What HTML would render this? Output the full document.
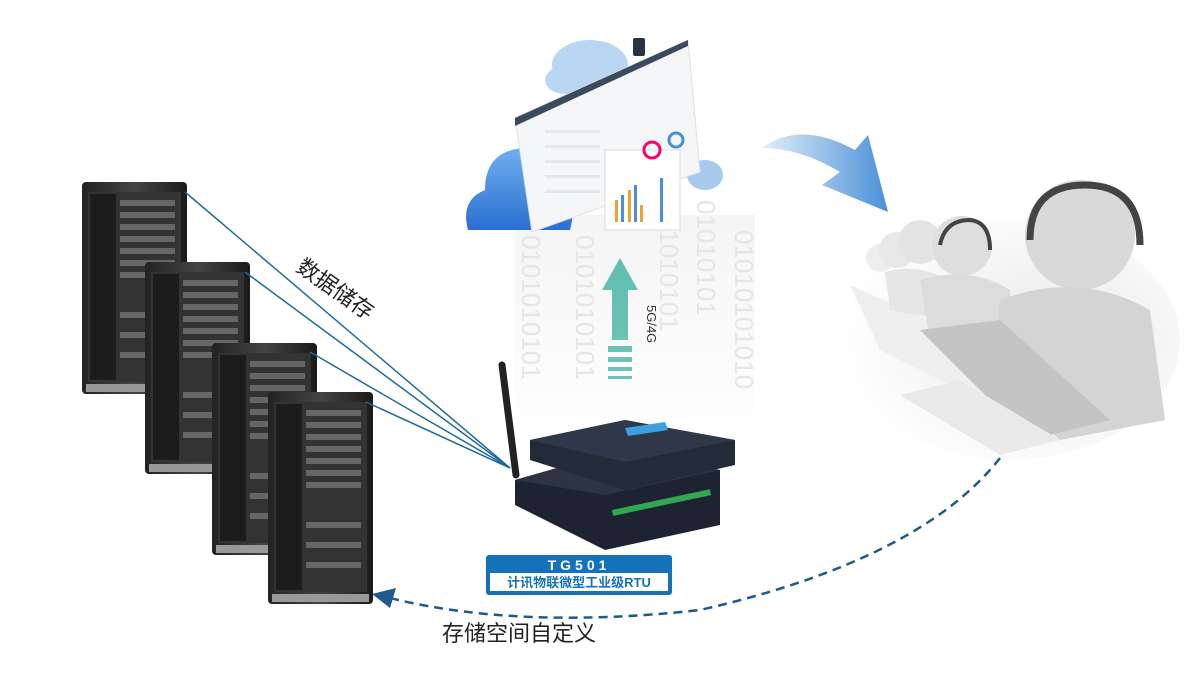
<!DOCTYPE html>
<html><head><meta charset="utf-8"><style>
body{margin:0;background:#fff;width:1200px;height:672px;overflow:hidden}
svg text{font-family:"Liberation Sans","Noto Sans CJK SC",sans-serif}
</style></head><body>
<svg width="1200" height="672" viewBox="0 0 1200 672" xmlns="http://www.w3.org/2000/svg">
<defs>
<linearGradient id="rk" x1="0" x2="1"><stop offset="0" stop-color="#222"/><stop offset=".5" stop-color="#444"/><stop offset="1" stop-color="#1a1a1a"/></linearGradient>
<linearGradient id="ar" x1="0" y1="1" x2="0" y2="0"><stop offset="0" stop-color="#6cc3b6"/><stop offset="1" stop-color="#5fbfb0"/></linearGradient>
<linearGradient id="cl" x1="0" y1="0" x2="0" y2="1"><stop offset="0" stop-color="#6fb0ee"/><stop offset="1" stop-color="#2a6fd0"/></linearGradient>
<linearGradient id="ba" x1="0" x2="1"><stop offset="0" stop-color="#e3eef9"/><stop offset="1" stop-color="#4a90d8"/></linearGradient>
<linearGradient id="bin" x1="0" y1="0" x2="0" y2="1"><stop offset="0" stop-color="#f2f2f2"/><stop offset="1" stop-color="#fff"/></linearGradient>
<radialGradient id="pg" cx=".6" cy=".5" r=".6"><stop offset="0" stop-color="#e8e8e8"/><stop offset="1" stop-color="#fff"/></radialGradient>
<g id="rack">
<rect x="0" y="0" width="105" height="212" fill="url(#rk)" rx="4"/>
<rect x="6" y="10" width="93" height="190" fill="#333"/>
<g fill="#666"><rect x="38" y="18" width="55" height="6"/><rect x="38" y="30" width="55" height="6"/><rect x="38" y="42" width="55" height="6"/><rect x="38" y="54" width="55" height="6"/><rect x="38" y="66" width="55" height="6"/><rect x="38" y="78" width="55" height="6"/><rect x="38" y="90" width="55" height="6"/><rect x="38" y="130" width="55" height="6"/><rect x="38" y="150" width="55" height="6"/><rect x="38" y="170" width="55" height="6"/></g>
<rect x="8" y="12" width="26" height="186" fill="#1c1c1c"/>
<rect x="4" y="202" width="97" height="8" fill="#999"/>
</g>
</defs>
<!-- binary bg -->
<rect x="515" y="215" width="240" height="230" fill="url(#bin)" opacity=".8"/>
<g fill="#e6e6e6" font-size="26">
<text transform="translate(522,235) rotate(90)">0101010101</text>
<text transform="translate(576,235) rotate(90)">0101010101</text>
<text transform="translate(660,215) rotate(90)">01010101</text>
<text transform="translate(735,230) rotate(90)">01010101010</text>
<text transform="translate(697,200) rotate(90)">01010101</text>
</g>
<!-- clouds and dashboard -->
<ellipse cx="590" cy="65" rx="38" ry="25" fill="#b9d6f2"/>
<ellipse cx="565" cy="80" rx="20" ry="14" fill="#b9d6f2"/>
<path d="M468 230 Q460 200 485 190 Q485 150 525 148 Q555 150 560 180 Q580 190 570 230 Z" fill="url(#cl)"/>
<ellipse cx="705" cy="175" rx="18" ry="15" fill="#a9caef"/>
<polygon points="515,118 688,40 700,172 532,232" fill="#f5f6f8" stroke="#e0e0e0"/>
<polygon points="515,118 688,40 688,46 515,126" fill="#3b4a5e"/>
<g fill="#e4e8ee"><rect x="545" y="130" width="55" height="3"/><rect x="545" y="145" width="55" height="3"/><rect x="545" y="160" width="55" height="3"/><rect x="545" y="175" width="55" height="3"/><rect x="545" y="190" width="55" height="3"/></g>
<rect x="605" y="150" width="75" height="80" fill="#fff" stroke="#ddd"/>
<g fill="#f0a030"><rect x="615" y="200" width="3" height="22"/><rect x="628" y="190" width="3" height="32"/><rect x="640" y="205" width="3" height="17"/></g>
<g fill="#4a90d8"><rect x="621" y="195" width="3" height="27"/><rect x="634" y="185" width="3" height="37"/><rect x="660" y="178" width="3" height="44"/></g>
<circle cx="652" cy="150" r="8" fill="none" stroke="#f06" stroke-width="3"/>
<circle cx="676" cy="140" r="7" fill="none" stroke="#4a90d8" stroke-width="3"/>
<rect x="633" y="38" width="12" height="18" fill="#2a3340" rx="2"/>
<!-- 5G arrow -->
<polygon points="620,258 638,290 628,290 628,340 612,340 612,290 602,290" fill="url(#ar)"/>
<g fill="#6cc3b6"><rect x="608" y="346" width="24" height="6"/><rect x="608" y="357" width="24" height="5"/><rect x="608" y="367" width="24" height="4"/><rect x="608" y="376" width="24" height="3"/></g>
<text transform="translate(647,305) rotate(90)" font-size="13" fill="#333">5G/4G</text>
<!-- racks -->
<use href="#rack" x="82" y="182"/>
<use href="#rack" x="145" y="262"/>
<use href="#rack" x="212" y="343"/>
<use href="#rack" x="268" y="392"/>
<!-- lines -->
<g stroke="#1e6a9e" stroke-width="1.5" fill="none">
<line x1="185" y1="192" x2="510" y2="468"/>
<line x1="245" y1="272" x2="510" y2="468"/>
<line x1="310" y1="352" x2="510" y2="468"/>
<line x1="366" y1="402" x2="510" y2="468"/>
</g>
<text transform="translate(295,270) rotate(35)" font-size="22" fill="#222">数据储存</text>
<!-- router -->
<line x1="502" y1="365" x2="516" y2="475" stroke="#222" stroke-width="7" stroke-linecap="round"/>
<polygon points="515,480 620,450 720,470 720,525 605,550 515,505" fill="#1d2330"/>
<polygon points="515,480 620,450 720,470 605,495" fill="#2c3444"/>
<polygon points="530,440 625,420 735,440 735,465 625,490 530,460" fill="#232a38"/>
<polygon points="530,440 625,420 735,440 625,462" fill="#2f3848"/>
<polygon points="625,428 665,422 668,430 628,436" fill="#3aa0e0"/>
<g fill="#2fa84f"><rect x="612" y="510" width="100" height="6" transform="rotate(-12 612 510)"/></g>
<!-- label -->
<rect x="486" y="555" width="186" height="40" rx="3" fill="#1473b8"/>
<rect x="490" y="573" width="178" height="18" fill="#fff"/>
<text x="579" y="570" font-size="14" font-weight="bold" fill="#fff" text-anchor="middle" letter-spacing="4">TG501</text>
<text x="579" y="587" font-size="13" font-weight="bold" fill="#1473b8" text-anchor="middle">计讯物联微型工业级RTU</text>
<!-- blue curved arrow -->
<path d="M762 148 Q800 120 855 150 L868 135 L888 212 L822 185 L840 172 Q800 148 762 148 Z" fill="url(#ba)"/>
<!-- people -->
<ellipse cx="1010" cy="340" rx="170" ry="120" fill="url(#pg)"/>
<g>
<path d="M850 285 L950 330 L1000 410 L880 350Z" fill="#efefef"/>
<ellipse cx="880" cy="258" rx="14" ry="14" fill="#eee"/>
<ellipse cx="897" cy="250" rx="18" ry="18" fill="#e8e8e8"/>
<path d="M885 272 Q920 262 950 282 L945 320 L890 310Z" fill="#e6e6e6"/>
<ellipse cx="920" cy="242" rx="22" ry="22" fill="#e4e4e4"/>
<ellipse cx="962" cy="246" rx="30" ry="30" fill="#dedede"/>
<path d="M920 280 Q970 265 1010 290 L1010 350 L930 340Z" fill="#dcdcdc"/>
<ellipse cx="1080" cy="235" rx="55" ry="55" fill="#d9d9d9"/>
<path d="M1000 300 Q1080 270 1150 310 L1165 420 L1060 440 Q990 380 1000 300Z" fill="#d4d4d4"/>
<polygon points="920,330 1030,440 1110,420 1000,320" fill="#c4c4c4"/>
<polygon points="960,380 1060,440 1000,455 900,395" fill="#eaeaea"/>
</g>
<path d="M1030 240 Q1030 185 1085 185 Q1140 185 1140 245" fill="none" stroke="#444" stroke-width="7"/>
<path d="M940 245 Q945 220 970 220 Q990 222 990 250" fill="none" stroke="#444" stroke-width="4"/>
<!-- dashed return arrow -->
<path d="M1000 458 Q920 560 700 610 Q520 630 390 598" fill="none" stroke="#1e5a8e" stroke-width="2.5" stroke-dasharray="9 6"/>
<polygon points="372,594 396,588 390,608" fill="#1e5a8e"/>
<text x="442" y="641" font-size="22" fill="#222">存储空间自定义</text>
</svg>
</body></html>
